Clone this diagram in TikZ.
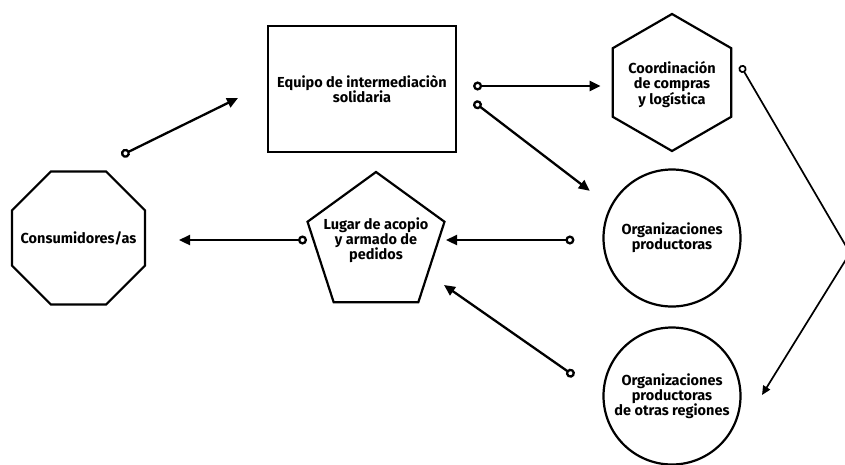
\documentclass[tikz,border=0pt]{standalone}
\usepackage{fontspec}
\setmainfont{Fira Sans}
\usepackage{tikz}
\usetikzlibrary{shapes.geometric, arrows.meta}

\begin{document}
\begin{tikzpicture}[
    x=1pt, y=-1pt, line width=2.3pt,
    every node/.style={font=\bfseries\fontsize{14.5}{15}\selectfont, align=center, inner sep=0pt},
    outline/.style={draw, line width=2.2pt},
    octa/.style={outline, regular polygon, regular polygon sides=8, minimum size=144pt},
    penta/.style={outline, regular polygon, regular polygon sides=5, minimum size=144pt},
    hexa/.style={outline, regular polygon, regular polygon sides=6, shape border rotate=30, minimum size=137pt},
    org/.style={outline, circle, minimum size=137pt},
    flow/.style={{Circle[open, length=9pt, width=9pt]}-{Triangle[length=11pt, width=10pt]}, line width=2.3pt},
    link/.style={{Circle[open, length=8pt, width=8pt]}-{Triangle[length=9pt, width=8pt]}, line width=1.7pt}
]
    \useasboundingbox (0,0) rectangle (845,464);

    \node[octa, label={center:Consumidores/as}] (cons) at (78.5,238) {};
    \node[outline, rectangle, minimum width=188pt, minimum height=126pt] (equipo) at (362,89) {Equipo de intermediaciòn\\solidaria};
    \node[penta, label={[yshift=4pt]center:Lugar de acopio\\y armado de\\pedidos}] (lugar) at (376,244) {};
    \node[hexa, label={[yshift=-2pt]center:Coordinación\\de compras\\y logística}] (coord) at (672,82.5) {};
    \node[org] (prod) at (672,238) {Organizaciones\\productoras};
    \node[org] (otras) at (672,396) {Organizaciones\\productoras\\de otras regiones};
    \coordinate (turn) at (850,253);

    \draw[flow] ([shift={(42.9,-82.7)}]cons.center) -- ([shift={(-124,9)}]equipo.center);
    \draw[flow] ([shift={(16,-3)}]equipo.east) -- ([shift={(-11,3.5)}]coord.west);
    \draw[flow] ([shift={(16.8,13)}]equipo.east) -- ([shift={(-33,2)}]prod.north west);
    \draw[flow] ([shift={(-28,2)}]prod.west) -- ([shift={(70,-4)}]lugar.center);
    \draw[flow] ([shift={(-69,-4)}]lugar.center) -- ([shift={(100.5,2)}]cons.center);
    \draw[flow] ([shift={(-97.9,-20.2)}]otras.center) -- ([shift={(68,41)}]lugar.center);
    \draw[link] ([shift={(68.5,-17)}]coord.center) -- (turn) -- ([shift={(90,-1)}]otras.center);
\end{tikzpicture}
\end{document}
